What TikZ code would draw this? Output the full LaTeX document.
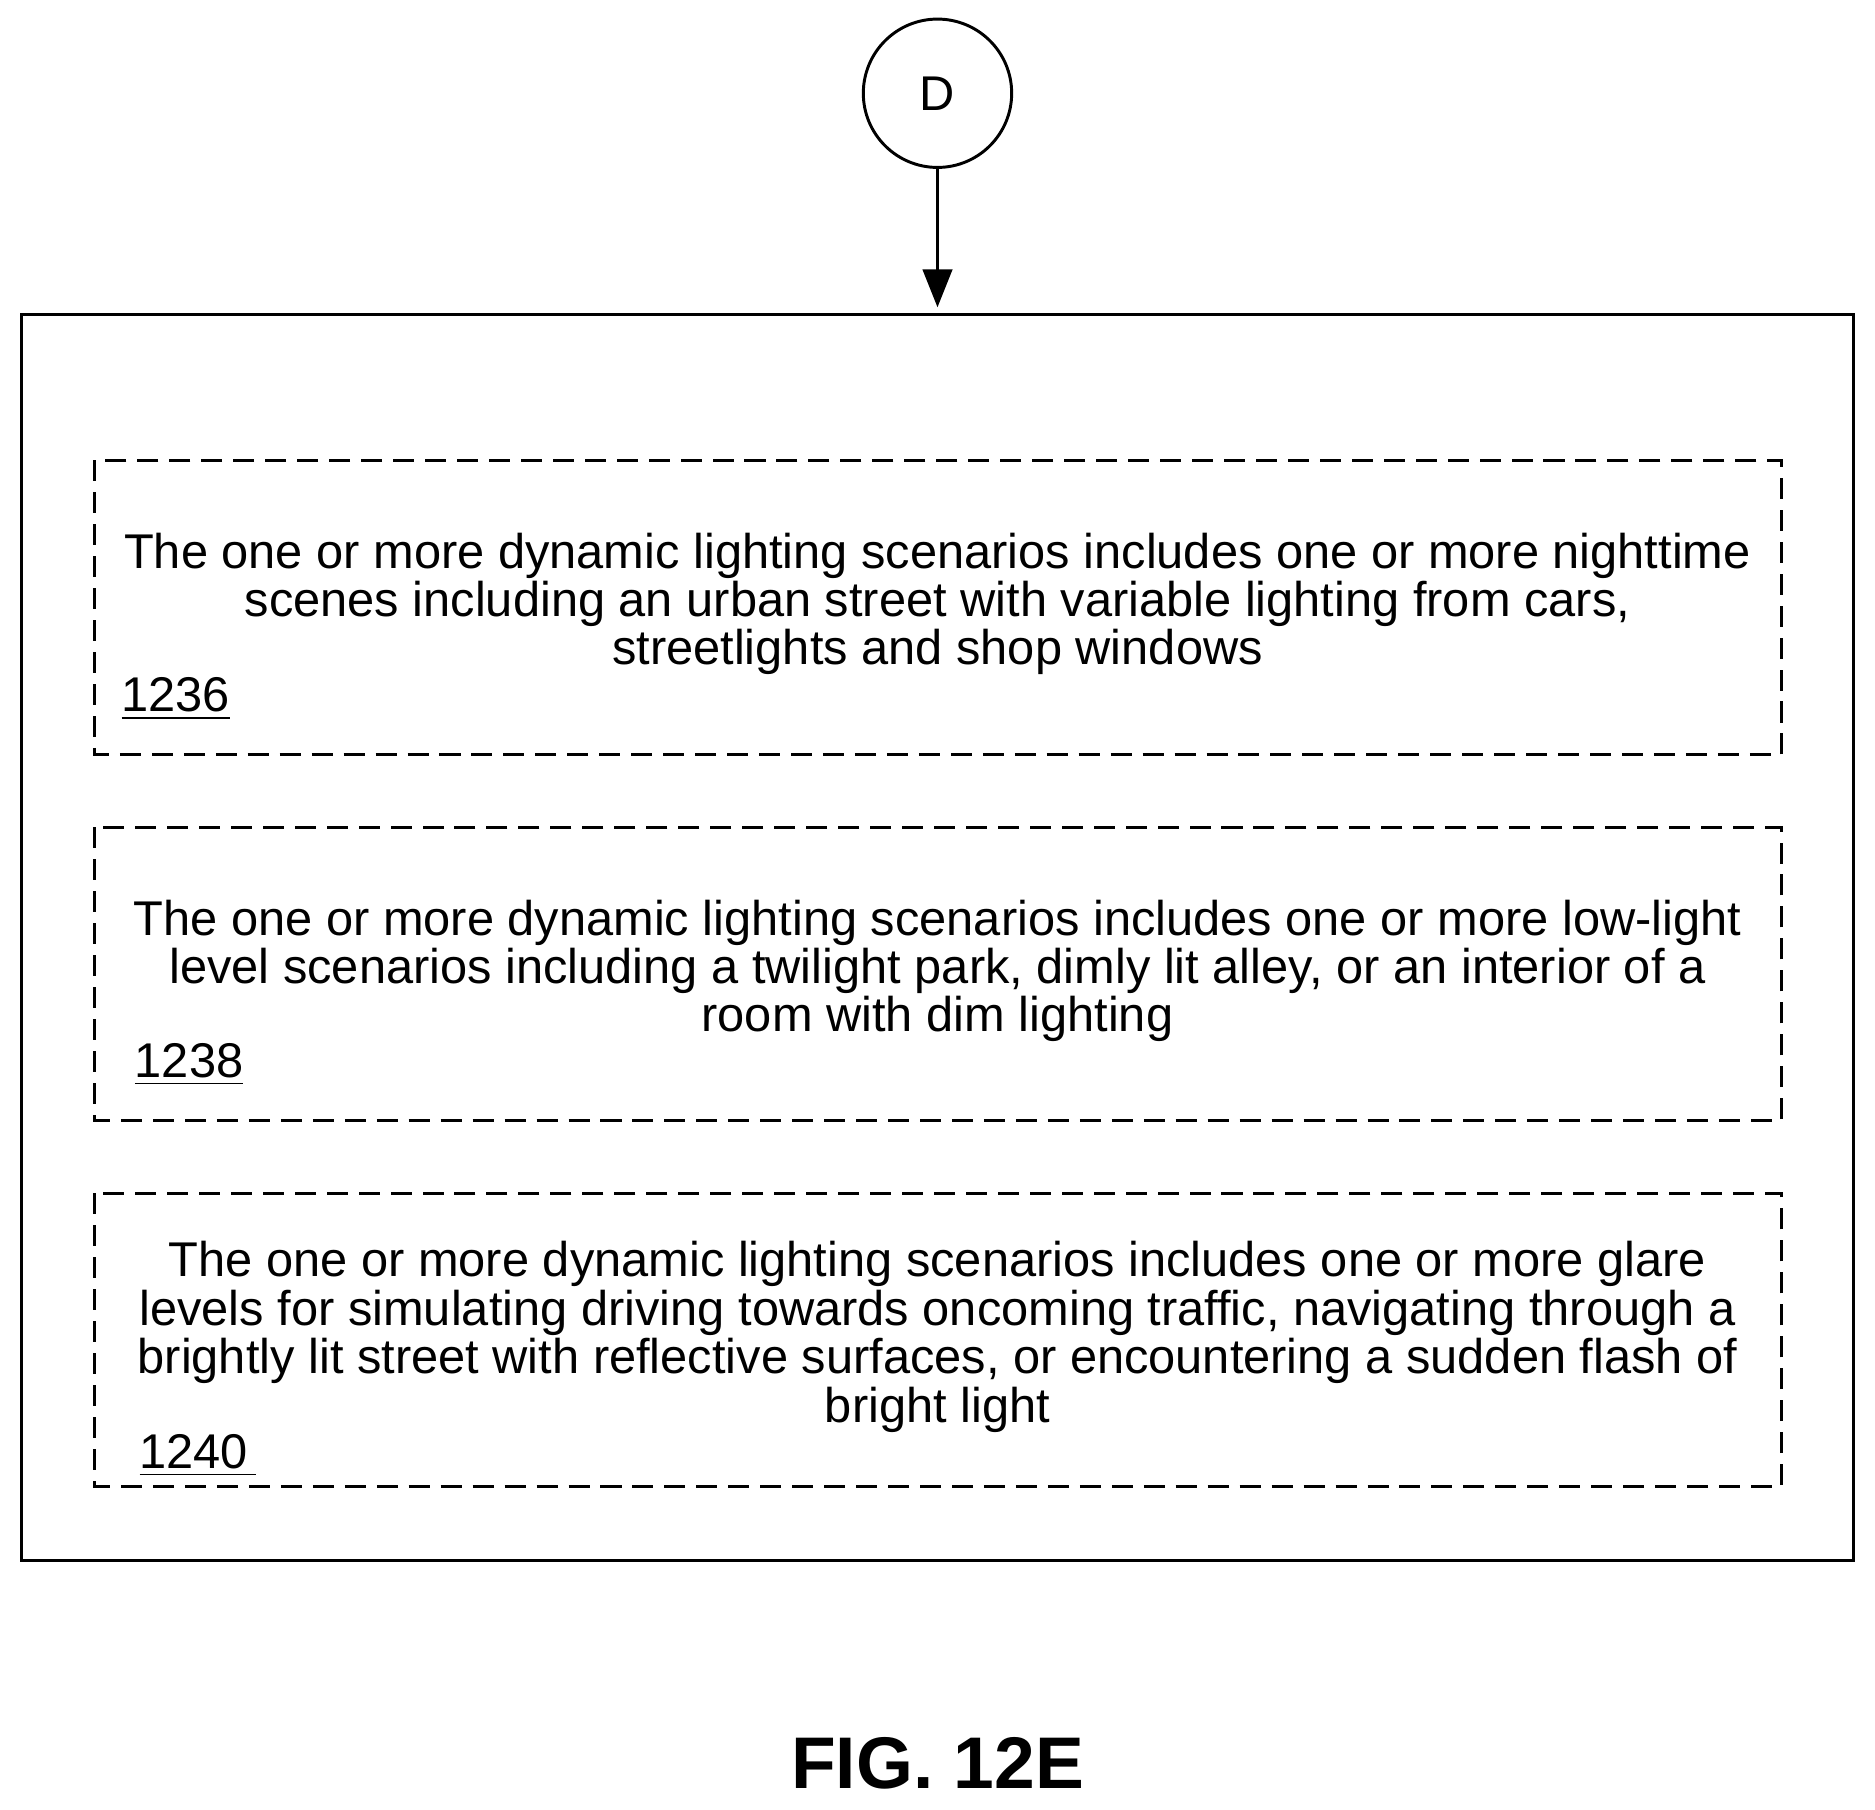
\documentclass[tikz,border=0pt]{standalone}
\usepackage{fontspec}
\setmainfont{Liberation Sans}
\usetikzlibrary{arrows.meta}
\begin{document}
\begin{tikzpicture}[x=0.01cm,y=-0.01cm,
	stepbox/.style={draw,dashed,dash pattern=on 5pt off 2.6pt,line width=0.7pt},
	desc/.style={align=center,font=\fontsize{11.6}{11.5}\selectfont},
	ref/.style={anchor=south west,inner sep=0pt,font=\fontsize{11.6}{11.5}\selectfont}]

	\useasboundingbox (0,0) rectangle (1568,1513);

	\node[draw,circle,minimum size=1.24cm,inner sep=0pt,line width=0.7pt,font=\fontsize{11.6}{12}\selectfont] (conn) at (784,78) {D};
	\draw[line width=0.7pt] (18,263) rectangle (1550,1305);
	\coordinate (top) at (784,257);
	\draw[line width=0.7pt,-{Triangle[length=9pt,width=7pt]}] (conn) -- (top);

	% sub-steps
	\draw[stepbox] (79,385) rectangle (1490,631);
	\node[desc] (s1236) at (784,505) {The one or more dynamic lighting scenarios includes one or more nighttime\\scenes including an urban street with variable lighting from cars,\\streetlights and shop windows};
	\node[ref] (r1236) at (101,603) {\underline{1236}};

	\draw[stepbox] (79,692) rectangle (1490,937);
	\node[desc] (s1238) at (784,812) {The one or more dynamic lighting scenarios includes one or more low-light\\level scenarios including a twilight park, dimly lit alley, or an interior of a\\room with dim lighting};
	\node[ref] (r1238) at (112,909) {\underline{1238}};

	\draw[stepbox] (79,998) rectangle (1490,1243);
	\node[desc] (s1240) at (784,1118) {The one or more dynamic lighting scenarios includes one or more glare\\levels for simulating driving towards oncoming traffic, navigating through a\\brightly lit street with reflective surfaces, or encountering a sudden flash of\\bright light};
	\node[ref] (r1240) at (116,1236) {\underline{1240\,}};

	\node[font=\bfseries\fontsize{17.4}{20}\selectfont] (fig) at (784,1475) {FIG. 12E};
\end{tikzpicture}
\end{document}
